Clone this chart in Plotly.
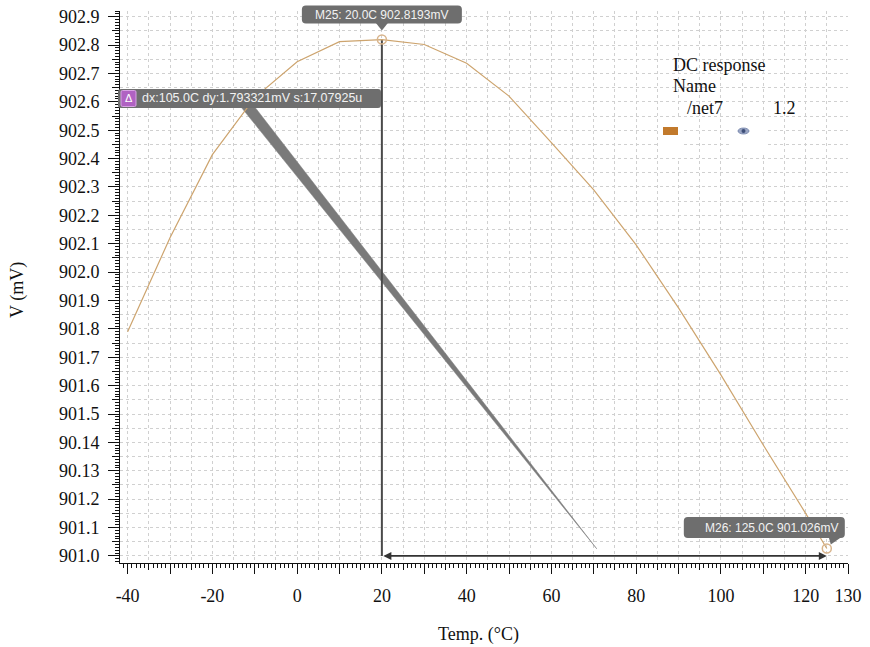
import plotly.graph_objects as go

# ---------------- data ----------------
temps = [-40, -30, -20, -10, 0, 10, 20, 30, 40, 50, 60, 70, 80, 90, 100, 110, 120, 125]
volts = [901.790, 902.121, 902.414, 902.615, 902.741, 902.812, 902.8193, 902.802, 902.736,
         902.620, 902.456, 902.290, 902.096, 901.874, 901.638, 901.391, 901.150, 901.026]

m25 = (20.0, 902.8193)
m26 = (125.0, 901.026)

# delta-slope band drawn by the viewer
wedge_x = [-14.6, -11.3, 70.7, -14.6]
wedge_y = [902.607, 902.607, 901.025, 902.607]

x_tickvals = [-40, -30, -20, -10, 0, 10, 20, 30, 40, 50, 60, 70, 80, 90, 100, 110, 120, 130]
x_ticktext = ["-40", "", "-20", "", "0", "", "20", "", "40", "", "60", "", "80", "", "100", "", "120", "130"]
y_tickvals = [901.0, 901.1, 901.2, 901.3, 901.4, 901.5, 901.6, 901.7, 901.8, 901.9,
              902.0, 902.1, 902.2, 902.3, 902.4, 902.5, 902.6, 902.7, 902.8, 902.9]
y_ticktext = ["901.0", "901.1", "901.2", "90.13", "90.14", "901.5", "901.6", "901.7", "901.8", "901.9",
              "902.0", "902.1", "902.2", "902.3", "902.4", "902.5", "902.6", "902.7", "902.8", "902.9"]

# ---------------- layout geometry ----------------
W, H = 870, 647
L, R, T, B = 120, 848, 11, 563
X0, X1 = -41.8, 130.0
Y0, Y1 = 900.975, 902.92


def px(x):
    return L + (x - X0) / (X1 - X0) * (R - L)


def py(y):
    return B - (y - Y0) / (Y1 - Y0) * (B - T)


def pp(xp, yp):
    return ((xp - L) / (R - L), (B - yp) / (B - T))


def rrect(x0, y0, x1, y1, r):
    def P(a, b):
        u, v = pp(a, b)
        return f"{u:.5f},{v:.5f}"
    return (f"M {P(x0 + r, y0)} L {P(x1 - r, y0)} Q {P(x1, y0)} {P(x1, y0 + r)} "
            f"L {P(x1, y1 - r)} Q {P(x1, y1)} {P(x1 - r, y1)} L {P(x0 + r, y1)} "
            f"Q {P(x0, y1)} {P(x0, y1 - r)} L {P(x0, y0 + r)} Q {P(x0, y0)} {P(x0 + r, y0)} Z")


def poly(points):
    parts = []
    for i, (a, b) in enumerate(points):
        u, v = pp(a, b)
        parts.append(("M " if i == 0 else "L ") + f"{u:.5f},{v:.5f}")
    return " ".join(parts) + " Z"


SERIF = "Liberation Serif"
SANS = "Liberation Sans"
CURVE = "#cda46e"
BOX = "#6e6e6e"
GRID = "#d0d0d0"
FS = 18

fig = go.Figure()

# grey slope band
fig.add_trace(go.Scatter(x=wedge_x, y=wedge_y, mode="lines", fill="toself",
                         fillcolor="#7a7a7a", line=dict(color="#7a7a7a", width=0.5),
                         hoverinfo="skip", showlegend=False))

# vertical marker line at M25
fig.add_trace(go.Scatter(x=[m25[0], m25[0]], y=[m25[1], 901.0], mode="lines",
                         line=dict(color="#4a4a4a", width=2), showlegend=False, hoverinfo="skip"))

# main curve
fig.add_trace(go.Scatter(x=temps, y=volts, mode="lines",
                         line=dict(color=CURVE, width=1.2), showlegend=False))

# markers
fig.add_trace(go.Scatter(x=[m25[0], m26[0]], y=[m25[1], m26[1]], mode="markers",
                         marker=dict(symbol="circle-open", size=9, color="#d8b48c",
                                     line=dict(width=1.5, color="#d8b48c")),
                         showlegend=False))

# invisible trace for fine-tick overlay axes
fig.add_trace(go.Scatter(x=[0], y=[902.0], xaxis="x2", yaxis="y2", mode="markers",
                         marker=dict(opacity=0), showlegend=False, hoverinfo="skip"))

shapes = []
annotations = []

# horizontal dx arrow
annotations.append(dict(x=m26[0], y=901.0, ax=m25[0], ay=901.0, xref="x", yref="y",
                        axref="x", ayref="y", showarrow=True, arrowhead=2, arrowside="end+start",
                        arrowsize=1, arrowwidth=1.6, arrowcolor="#333333", text=""))

# M25 label
mx, my = px(m25[0]), py(m25[1])
shapes.append(dict(type="path", xref="paper", yref="paper",
                   path=rrect(mx - 80, my - 34, mx + 80, my - 16, 4),
                   fillcolor=BOX, line=dict(width=0), layer="above"))
shapes.append(dict(type="path", xref="paper", yref="paper",
                   path=poly([(mx - 6, my - 16.5), (mx + 6, my - 16.5), (mx, my - 9)]),
                   fillcolor=BOX, line=dict(width=0), layer="above"))
u, v = pp(mx, my - 25)
annotations.append(dict(x=u, y=v, xref="paper", yref="paper", showarrow=False,
                        text="M25: 20.0C 902.8193mV", xanchor="center", yanchor="middle",
                        font=dict(family=SANS, size=12, color="#f2f2f2")))

# M26 label
nx, ny = px(m26[0]), py(m26[1])
shapes.append(dict(type="path", xref="paper", yref="paper",
                   path=rrect(nx - 143, ny - 31.5, nx + 18, ny - 10.5, 4),
                   fillcolor=BOX, line=dict(width=0), layer="above"))
shapes.append(dict(type="path", xref="paper", yref="paper",
                   path=poly([(nx + 2, ny - 11), (nx + 14, ny - 11), (nx + 4, ny - 4)]),
                   fillcolor=BOX, line=dict(width=0), layer="above"))
u, v = pp(nx - 124, ny - 21)
annotations.append(dict(x=u, y=v, xref="paper", yref="paper", showarrow=False,
                        text="M26: 125.0C 901.026mV", xanchor="left", yanchor="middle",
                        font=dict(family=SANS, size=12, color="#f2f2f2")))

# delta label
shapes.append(dict(type="path", xref="paper", yref="paper",
                   path=rrect(118, 89, 381, 108, 3),
                   fillcolor=BOX, line=dict(width=0), layer="above"))
shapes.append(dict(type="path", xref="paper", yref="paper",
                   path=rrect(121, 90.5, 136, 106.5, 1.5),
                   fillcolor="#b062c2", line=dict(width=1, color="#d9a3e4"), layer="above"))
u, v = pp(128.5, 98.5)
annotations.append(dict(x=u, y=v, xref="paper", yref="paper", showarrow=False,
                        text="Δ", xanchor="center", yanchor="middle",
                        font=dict(family=SANS, size=11, color="#ffffff")))
u, v = pp(140, 98.5)
annotations.append(dict(x=u, y=v, xref="paper", yref="paper", showarrow=False,
                        text="dx:105.0C dy:1.793321mV s:17.07925u", xanchor="left", yanchor="middle",
                        font=dict(family=SANS, size=12.5, color="#f2f2f2")))

# legend block
for (x0, y0, x1, y1) in [(659, 119, 683, 158), (731, 119, 766, 155)]:
    a0, b0 = pp(x0, y1)
    a1, b1 = pp(x1, y0)
    shapes.append(dict(type="rect", xref="paper", yref="paper", x0=a0, y0=b0, x1=a1, y1=b1,
                       fillcolor="white", line=dict(width=0), layer="above"))
a0, b0 = pp(663, 135)
a1, b1 = pp(678, 127)
shapes.append(dict(type="rect", xref="paper", yref="paper", x0=a0, y0=b0, x1=a1, y1=b1,
                   fillcolor="#c27a2c", line=dict(width=0), layer="above"))
a0, b0 = pp(738, 134)
a1, b1 = pp(749, 128)
shapes.append(dict(type="circle", xref="paper", yref="paper", x0=a0, y0=b0, x1=a1, y1=b1,
                   fillcolor="#9aa6c4", line=dict(width=0.8, color="#6c7ca4"), layer="above"))
a0, b0 = pp(741.5, 133)
a1, b1 = pp(745.5, 129)
shapes.append(dict(type="circle", xref="paper", yref="paper", x0=a0, y0=b0, x1=a1, y1=b1,
                   fillcolor="#3e4e78", line=dict(width=0), layer="above"))

for txt, xp, yp in [("DC response", 671, 65), ("Name", 671, 86), ("/net7", 685, 108), ("1.2", 771, 108)]:
    u, v = pp(xp, yp)
    annotations.append(dict(x=u, y=v, xref="paper", yref="paper", showarrow=False, text=txt,
                            xanchor="left", yanchor="middle",
                            font=dict(family=SERIF, size=FS, color="#111111")))

# axis titles
u, v = pp(478, 634)
annotations.append(dict(x=u, y=v, xref="paper", yref="paper", showarrow=False, text="Temp. (°C)",
                        xanchor="center", yanchor="middle",
                        font=dict(family=SERIF, size=FS, color="#111111")))
u, v = pp(17, 290)
annotations.append(dict(x=u, y=v, xref="paper", yref="paper", showarrow=False, text="V (mV)",
                        textangle=-90, xanchor="center", yanchor="middle",
                        font=dict(family=SERIF, size=FS, color="#111111")))

fig.update_layout(
    width=W, height=H,
    margin=dict(l=L, r=W - R, t=T, b=H - B, autoexpand=False),
    paper_bgcolor="white", plot_bgcolor="white",
    showlegend=False,
    xaxis=dict(range=[X0, X1], tickmode="array", tickvals=x_tickvals, ticktext=x_ticktext,
               automargin=False,
               ticks="outside", ticklen=10, tickwidth=1, tickcolor="#111111",
               showline=True, linecolor="#111111", linewidth=1,
               showgrid=True, gridcolor=GRID, griddash="dot", gridwidth=1, zeroline=False,
               tickfont=dict(family=SERIF, size=FS, color="#111111"), ticklabelstandoff=6,
               minor=dict(dtick=5, tick0=0, showgrid=True, gridcolor=GRID, griddash="dot",
                          ticks="outside", ticklen=6, tickcolor="#111111")),
    yaxis=dict(range=[Y0, Y1], tickmode="array", tickvals=y_tickvals, ticktext=y_ticktext,
               automargin=False,
               ticks="outside", ticklen=11, tickwidth=1, tickcolor="#111111",
               showline=True, linecolor="#111111", linewidth=1,
               showgrid=True, gridcolor=GRID, griddash="dot", gridwidth=1, zeroline=False,
               tickfont=dict(family=SERIF, size=FS, color="#111111"), ticklabelstandoff=5,
               minor=dict(dtick=0.05, tick0=901.0, showgrid=True, gridcolor=GRID, griddash="dot",
                          ticks="outside", ticklen=7, tickcolor="#111111")),
    xaxis2=dict(range=[X0, X1], overlaying="x", anchor="y", side="bottom", dtick=1, tick0=0,
                automargin=False,
                ticks="outside", ticklen=4, tickcolor="#111111", showticklabels=False,
                showgrid=False, zeroline=False, showline=False),
    yaxis2=dict(range=[Y0, Y1], overlaying="y", anchor="x", side="left", dtick=0.01, tick0=901.0,
                automargin=False,
                ticks="outside", ticklen=4, tickcolor="#111111", showticklabels=False,
                showgrid=False, zeroline=False, showline=False),
    shapes=shapes,
    annotations=annotations,
)

fig.write_html("out.html")
